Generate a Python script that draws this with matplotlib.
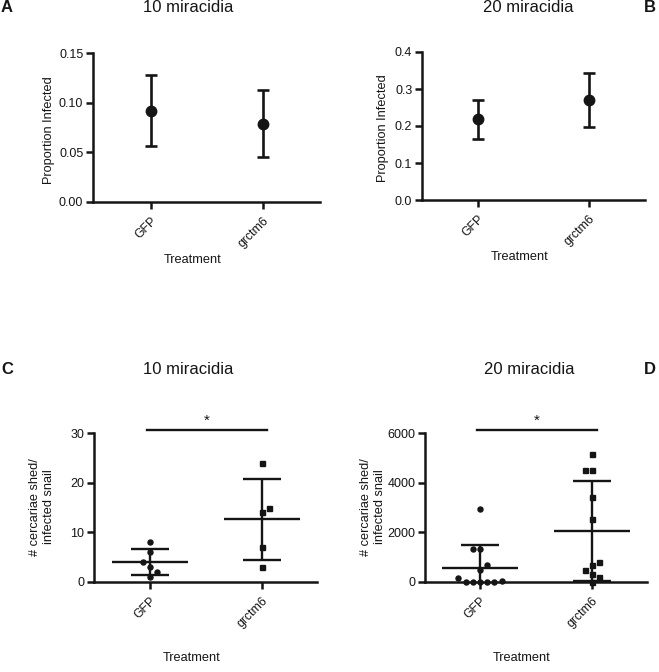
import numpy as np
import matplotlib
matplotlib.use('Agg')
import matplotlib.pyplot as plt

plt.rcParams['font.family'] = ['Liberation Sans', 'DejaVu Sans']

groups = ['GFP', 'grctm6']

# Panel A: proportion infected, 10 miracidia (point estimate with interval)
a_prop = [0.092, 0.079]
a_low = [0.056, 0.045]
a_high = [0.128, 0.113]

# Panel B: proportion infected, 20 miracidia
b_prop = [0.218, 0.270]
b_low = [0.165, 0.197]
b_high = [0.270, 0.343]

# Panel C: cercariae shed per infected snail, 10 miracidia
c_gfp = [8, 6, 4, 3, 2, 1]
c_grctm6 = [24, 15, 14, 7, 3]

# Panel D: cercariae shed per infected snail, 20 miracidia
d_gfp = [2930, 1320, 1320, 680, 500, 175, 60, 0, 0, 0, 0, 0]
d_grctm6 = [5150, 4520, 4520, 3410, 2520, 810, 700, 500, 340, 200, 0]

W, H = 659, 672
fig = plt.figure(figsize=(W / 100, H / 100), dpi=100)
fig.patch.set_facecolor('white')
INK = '#151515'
LW = 1.8


def add_axes(l, r, b, t):
    return fig.add_axes([l / W, 1 - b / H, (r - l) / W, (b - t) / H])


def style(ax, xlim, ylim, yticks, yticklabels):
    ax.set_xlim(*xlim)
    ax.set_ylim(*ylim)
    for s in ['top', 'right']:
        ax.spines[s].set_visible(False)
    for s in ['left', 'bottom']:
        ax.spines[s].set_linewidth(LW)
        ax.spines[s].set_color(INK)
    ax.tick_params(width=LW, length=5, direction='out', labelsize=9,
                   colors=INK, pad=2)
    ax.set_yticks(yticks)
    ax.set_yticklabels(yticklabels)
    ax.set_xticks([0, 1])
    ax.set_xticklabels(groups, rotation=45, ha='right', va='top',
                       rotation_mode='anchor', fontsize=8.8)
    ax.tick_params(axis='x', pad=4)
    ax.patch.set_alpha(0)


def labels(ax, ylabel, ypos, xpos):
    ax.set_ylabel(ylabel, fontsize=9.2, color=INK)
    ax.yaxis.label.set_va('center')
    ax.yaxis.set_label_coords(*ypos)
    ax.set_xlabel('Treatment', fontsize=9.2, color=INK)
    ax.xaxis.label.set_va('center')
    ax.xaxis.set_label_coords(*xpos)


def swarm_offsets(values, ppu_y, ppu_x, d_px=7.2):
    values = np.asarray(values, dtype=float)
    order = np.argsort(values, kind='stable')
    placed = []
    offs = np.zeros(len(values))
    side = 1
    for i in order:
        y = values[i] * ppu_y

        def collides(x):
            return any(abs(x - px) < d_px * 0.99 and abs(y - py) < d_px
                       for px, py in placed)
        if collides(0):
            k = 1
            found = None
            while found is None:
                for c in (side * k * d_px, -side * k * d_px):
                    if not collides(c):
                        found = c
                        break
                k += 1
            x = found
            side = -side
        else:
            x = 0.0
        placed.append((x, y))
        offs[i] = x / ppu_x
    return offs


def interval_panel(ax, prop, low, high):
    prop = np.asarray(prop); low = np.asarray(low); high = np.asarray(high)
    ax.errorbar([0, 1], prop, yerr=[prop - low, high - prop], fmt='o',
                color=INK, ms=7.5, capsize=4.5, elinewidth=1.9, capthick=1.9)


def scatter_panel(ax, data, markers, ppu_y, ppu_x, ms):
    for i, (vals, mk) in enumerate(zip(data, markers)):
        vals = np.asarray(vals, dtype=float)
        offs = swarm_offsets(vals, ppu_y, ppu_x)
        ax.plot(i + offs, vals, linestyle='none', marker=mk, ms=ms,
                color=INK, clip_on=False, zorder=3)
        m = vals.mean()
        s = vals.std(ddof=1)
        ax.hlines(m, i - 0.34, i + 0.34, color=INK, lw=1.7, zorder=4)
        ax.vlines(i, m - s, m + s, color=INK, lw=1.7, zorder=4)
        ax.hlines([m - s, m + s], i - 0.17, i + 0.17, color=INK, lw=1.7,
                  zorder=4)


def sig(ax, y, ystar):
    ax.plot([-0.03, 1.04], [y, y], color=INK, lw=1.7, clip_on=False)
    ax.text(0.51, ystar, '*', ha='center', va='center', fontsize=11,
            color=INK, clip_on=False)


# Panel A
axA = add_axes(93, 320, 202, 53)
style(axA, (-0.518, 1.509), (0, 0.15), [0, 0.05, 0.10, 0.15],
      ['0.00', '0.05', '0.10', '0.15'])
interval_panel(axA, a_prop, a_low, a_high)
labels(axA, 'Proportion Infected', (-0.194, 0.483), (0.44, -0.389))

# Panel B
axB = add_axes(422, 645, 200, 52)
style(axB, (-0.505, 1.505), (0, 0.4), [0, 0.1, 0.2, 0.3, 0.4],
      ['0.0', '0.1', '0.2', '0.3', '0.4'])
interval_panel(axB, b_prop, b_low, b_high)
labels(axB, 'Proportion Infected', (-0.175, 0.486), (0.44, -0.385))

# Panel C
axC = add_axes(94, 317, 582, 433)
style(axC, (-0.5, 1.49), (0, 30), [0, 10, 20, 30], ['0', '10', '20', '30'])
scatter_panel(axC, [c_gfp, c_grctm6], ['o', 's'], 149 / 30, 112, 3.6)
labels(axC, '# cercariae shed/\ninfected snail', (-0.233, 0.503),
       (0.44, -0.51))
sig(axC, 30.6, 32.4)

# Panel D
axD = add_axes(425, 647, 582, 433)
style(axD, (-0.49, 1.49), (0, 6000), [0, 2000, 4000, 6000],
      ['0', '2000', '4000', '6000'])
scatter_panel(axD, [d_gfp, d_grctm6], ['o', 's'], 149 / 6000, 112, 3.6)
labels(axD, '# cercariae shed/\ninfected snail', (-0.236, 0.503),
       (0.437, -0.51))
sig(axD, 6120, 6480)

# Titles and panel letters
for (x, y, t) in [(188, 8, '10 miracidia'), (528, 8, '20 miracidia'),
                  (188, 370, '10 miracidia'), (529, 370, '20 miracidia')]:
    fig.text(x / W, 1 - y / H, t, ha='center', va='center', fontsize=12,
             color=INK)
for (x, y, t) in [(7, 8, 'A'), (650, 8, 'B'), (7, 370, 'C'), (650, 370, 'D')]:
    fig.text(x / W, 1 - y / H, t, ha='center', va='center', fontsize=12,
             fontweight='bold', color=INK)

fig.savefig('out.png', dpi=100, facecolor='white')
